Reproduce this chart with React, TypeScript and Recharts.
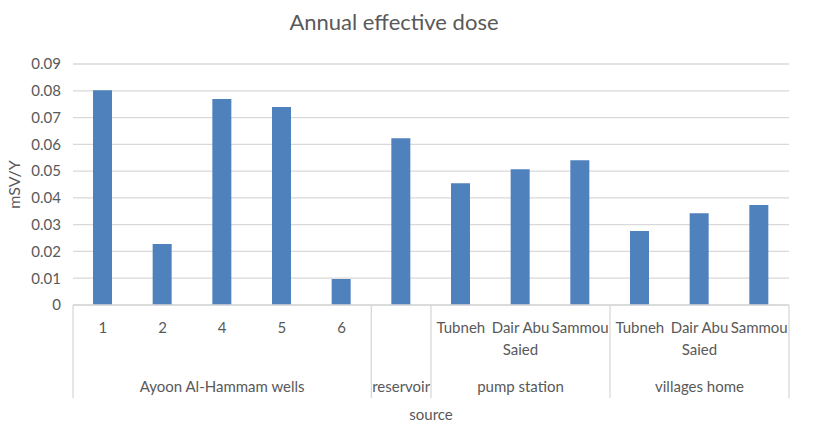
import React from 'react';
import { BarChart, Bar, XAxis, YAxis, CartesianGrid } from 'recharts';

const categories = ['1', '2', '4', '5', '6', '', 'Tubneh', 'Dair Abu Saied', 'Sammou', 'Tubneh', 'Dair Abu Saied', 'Sammou'];
const groupOf = [0, 0, 0, 0, 0, 1, 2, 2, 2, 3, 3, 3];
const groups = ['Ayoon Al-Hammam wells', 'reservoir', 'pump station', 'villages home'];
const dose = [0.0802, 0.0228, 0.0769, 0.0739, 0.0097, 0.0623, 0.0455, 0.0507, 0.0541, 0.0276, 0.0343, 0.0373];
const yTicks = [0, 0.01, 0.02, 0.03, 0.04, 0.05, 0.06, 0.07, 0.08, 0.09];

const data = categories.map((name, i) => ({ id: i, name, group: groupOf[i], dose: dose[i] }));

const FONT = 'Lato, "Open Sans", sans-serif';
const GRAY = '#595959';
const LINE = '#d9d9d9';

// wrap a label the way Excel does in a narrow cell
const wrap = (s: string, max = 9) => {
  const out: string[] = [];
  let cur = '';
  s.split(' ').forEach((w) => {
    if (cur && (cur + ' ' + w).length > max) { out.push(cur); cur = w; }
    else cur = cur ? cur + ' ' + w : w;
  });
  if (cur) out.push(cur);
  return out;
};

function GroupTick(props: any) {
  const { x, y, payload, index } = props;
  const half = payload?.offset ?? 29.8;
  const i = Number(payload?.value ?? index);
  const g = groupOf[i];
  const members = groupOf.map((v, k) => (v === g ? k : -1)).filter((k) => k >= 0);
  const first = members[0] === i;
  const last = i === categories.length - 1;
  const mid = (members.length - 1) / 2;
  const pos = members.indexOf(i);
  const lines = wrap(categories[i]);
  // group label sits at the middle of its members
  let groupX: number | null = null;
  if (pos === Math.floor(mid)) groupX = x + (mid - Math.floor(mid)) * half * 2;
  return (
    <g>
      {first && <line x1={x - half} x2={x - half} y1={y} y2={y + 93} stroke={LINE} strokeWidth={1.3} />}
      {last && <line x1={x + half} x2={x + half} y1={y} y2={y + 93} stroke={LINE} strokeWidth={1.3} />}
      {lines.map((t, k) => (
        <text key={k} x={x} y={y + 28 + k * 22} textAnchor="middle" fill={GRAY} fontSize={15} fontFamily={FONT}>{t}</text>
      ))}
      {groupX !== null && (
        <text x={groupX} y={y + 87} textAnchor="middle" fill={GRAY} fontSize={15} fontFamily={FONT}>{groups[g]}</text>
      )}
    </g>
  );
}

export default function App() {
  return (
    <div style={{ position: 'absolute', left: 0, top: 0, width: 819, height: 426, background: '#fff' }}>
      <div style={{ position: 'absolute', left: 0, top: 8, width: 788, textAlign: 'center', fontFamily: FONT, fontSize: 22, color: GRAY }}>
        Annual effective dose
      </div>
      <BarChart width={819} height={426} data={data} margin={{ top: 64, right: 30, bottom: 0, left: 0 }} barCategoryGap="34%">
        <CartesianGrid vertical={false} stroke={LINE} strokeWidth={1.3} />
        <XAxis
          dataKey="id"
          interval={0}
          height={121}
          axisLine={{ stroke: LINE, strokeWidth: 1.3 }}
          tickLine={false}
          tickSize={0}
          tickMargin={0}
          tick={<GroupTick />}
          label={{ value: 'source', position: 'insideBottom', offset: 6, fill: GRAY, fontSize: 15, fontFamily: FONT }}
        />
        <YAxis
          width={73}
          domain={[0, 0.09]}
          ticks={yTicks}
          interval={0}
          axisLine={false}
          tickLine={false}
          tickMargin={6}
          tickFormatter={(v: number) => (v === 0 ? '0' : v.toFixed(2))}
          tick={{ fill: GRAY, fontSize: 15, fontFamily: FONT }}
          label={{ value: 'mSV/Y', angle: -90, position: 'insideLeft', offset: 14, fill: GRAY, fontSize: 16, fontFamily: FONT, style: { textAnchor: 'middle' } }}
        />
        <Bar dataKey="dose" fill="#4f81bd" barSize={19} isAnimationActive={false} />
      </BarChart>
    </div>
  );
}
